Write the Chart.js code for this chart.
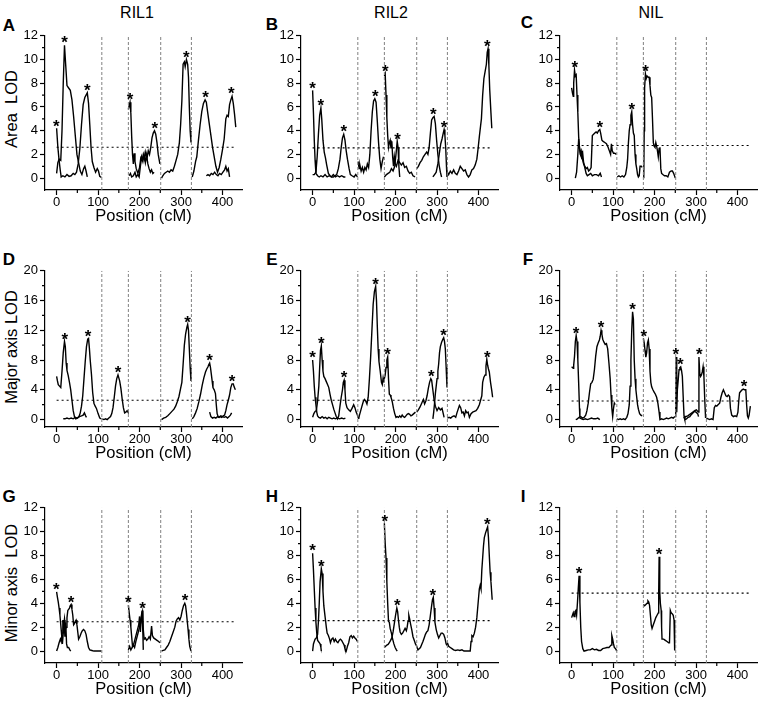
<!DOCTYPE html>
<html>
<head>
<meta charset="utf-8">
<script src="https://cdn.jsdelivr.net/npm/chart.js@4.4.1/dist/chart.umd.min.js"></script>
<style>
body { margin: 0; background: #fff; width: 759px; height: 703px; position: relative; overflow: hidden;
       font-family: "Liberation Sans", Arial, sans-serif; color: #000; }
canvas { position: absolute; }
.t { position: absolute; transform: translate(-50%, -50%); white-space: pre; }
.hdr { font-size: 16px; }
.let { font-size: 17px; font-weight: bold; }
.yt { font-size: 16.5px; transform: translate(-50%, -50%) rotate(-90deg); }
</style>
</head>
<body>
<div class="t hdr" style="left:137px;top:13px">RIL1</div>
<div class="t hdr" style="left:391px;top:13px">RIL2</div>
<div class="t hdr" style="left:651px;top:13px">NIL</div>

<div class="t let" style="left:9px;top:26px">A</div>
<div class="t let" style="left:272px;top:25px">B</div>
<div class="t let" style="left:527px;top:23px">C</div>
<div class="t let" style="left:9px;top:260px">D</div>
<div class="t let" style="left:272px;top:260px">E</div>
<div class="t let" style="left:528px;top:260px">F</div>
<div class="t let" style="left:9px;top:497px">G</div>
<div class="t let" style="left:272px;top:497px">H</div>
<div class="t let" style="left:523px;top:497px">I</div>

<div class="t yt" style="left:11px;top:109px">Area  LOD</div>
<div class="t yt" style="left:11px;top:347px">Major axis LOD</div>
<div class="t yt" style="left:11px;top:583px">Minor axis  LOD</div>

<script>
// chromosome boundaries (cM) and axis ticks
const chromBounds = [109, 173, 251, 325];
const xTicks = [0, 100, 200, 300, 400];
const xMinor = [50, 150, 250, 350];
const yTicks12 = [0, 2, 4, 6, 8, 10, 12];
const yMinor12 = [1, 3, 5, 7, 9, 11];
const yTicks20 = [0, 4, 8, 12, 16, 20];
const yMinor20 = [2, 6, 10, 14, 18];

// significance thresholds, panels A..I
const thresholdLOD = [2.6, 2.55, 2.75, 2.6, 2.6, 2.5, 2.45, 2.55, 4.85];

// ---- A: RIL1 area
const A1a = [[0,4.2],[3,2.6],[6,1.5],[9,0.6],[11,0.1],[15,0.2],[20,0.1],[25,0.3],[30,0.15],[35,0.2],[40,0.4],[44,0.3],[48,0.5],[52,1.2],[56,2.5],[60,4.5],[64,6.2],[68,6.8],[71,7.0],[74,7.2],[77,6.3],[80,4.5],[83,2.6],[86,1.4],[90,0.9],[94,0.5],[98,0.8],[101,0.6],[104,0.15],[108,0.05]];
const A1b = [[0,0.4],[3,1.3],[6,1.6],[10,1.5],[13,4.0],[16,8.0],[19,11.2],[22,9.5],[25,7.8],[29,7.6],[33,7.4],[37,6.6],[41,5.2],[45,3.6],[49,2.0],[53,1.3],[57,0.6],[61,0.3],[65,0.8],[68,1.0],[71,0.6],[74,0.1]];
const A2a = [[173,5.8],[175,6.1],[177,6.4],[179,5.5],[181,3.5],[183,2.0],[185,1.2],[187,2.1],[189,1.4],[192,0.8],[196,0.4],[200,0.9],[203,1.7],[206,1.5],[209,2.0],[212,1.6],[215,2.2],[218,1.7],[221,2.3],[224,2.0],[227,2.6],[230,3.4],[233,3.8],[236,4.0],[239,3.7],[242,3.0],[245,2.0],[249,1.2]];
const A2b = [[175,0.2],[178,0.4],[181,0.1],[185,0.2],[189,0.5],[192,0.1],[196,0.3],[199,0.1],[202,1.0],[205,1.8],[208,1.4],[211,2.0],[214,1.3],[217,1.9],[220,1.2],[223,0.8],[226,0.5],[229,0.7],[232,0.4],[235,0.5]];
const A3 = [[253,0],[256,0.2],[260,0.4],[264,0.5],[268,0.6],[272,0.5],[276,0.7],[280,0.6],[284,1.0],[288,1.5],[292,2.0],[296,3.0],[299,4.5],[302,6.5],[305,9.6],[308,9.8],[310,9.4],[313,10.0],[316,9.6],[318,8.5],[320,6.0],[322,4.0],[324,3.0]];
const A4a = [[327,0.1],[331,0.6],[335,1.4],[338,1.8],[342,3.2],[346,4.5],[350,5.6],[354,6.3],[358,6.6],[361,6.4],[364,5.6],[368,4.6],[372,3.6],[376,2.6],[380,1.8],[384,1.0],[388,0.5],[392,0.9],[396,1.6],[400,2.4],[404,3.3],[408,5.0],[411,5.3],[414,5.2],[417,6.2],[420,6.6],[423,6.9],[426,6.3],[429,5.4],[432,4.3]];
const A4b = [[361,0.2],[365,0.3],[369,0.2],[373,0.4],[377,0.3],[381,0.5],[385,0.3],[389,0.2],[393,0.4],[397,0.3],[401,0.5],[405,0.7],[408,1.0],[411,0.6],[414,0.8],[417,0.1]];
const A_stars = [[-1,4.2],[19,11.2],[74,7.2],[177,6.4],[237,4.0],[313,10.0],[359,6.6],[421,6.9]];

// ---- B: RIL2 area
const B1a = [[0,7.4],[2,5.5],[4,3.2],[6,1.5],[8,0.4],[12,0.2],[16,0.1],[20,0.2],[25,0.1],[30,0.3],[35,0.1],[40,0.2],[45,0.1],[50,0.3],[55,0.1],[60,0.2],[65,0.1],[70,0.2],[75,0.1],[79,0.1]];
const B1b = [[0,0.3],[4,0.3],[8,0.5],[11,1.8],[14,3.7],[17,5.3],[20,5.9],[22,5.0],[25,3.2],[28,2.2],[31,1.7],[34,1.1],[38,0.4],[42,0.2],[46,0.1],[50,0.1],[54,0.2],[58,0.3],[62,0.8],[66,1.6],[69,2.6],[72,3.4],[75,3.7],[78,3.2],[81,2.3],[84,1.6],[88,0.8],[91,0.3],[95,0.2],[100,0.1],[104,0.3],[108,0.1]];
const B2 = [[110,1.4],[112,0.8],[114,1.1],[117,0.6],[120,0.9],[123,0.5],[126,0.9],[129,0.7],[132,1.2],[135,0.9],[138,2.0],[141,4.0],[144,5.6],[147,6.5],[150,6.7],[153,6.4],[156,4.8],[159,3.0],[162,1.6],[165,0.8],[168,1.4],[171,1.8]];
const B3a = [[173,8.6],[175,8.8],[177,7.0],[179,5.1],[181,3.6],[183,2.6],[185,3.0],[187,3.2],[189,2.5],[191,3.1],[193,1.8],[195,1.0],[197,1.8],[199,1.2],[202,1.0],[206,1.5],[210,1.3],[214,1.1],[218,1.3],[222,0.9],[226,1.0],[230,0.6],[234,0.4],[238,0.5],[242,0.2],[247,0.1]];
const B3b = [[173,0.1],[178,0.3],[182,0.4],[186,0.5],[190,0.8],[194,0.6],[198,1.0],[201,2.0],[204,3.1],[206,2.6],[208,1.0],[210,0.1]];
const B4a = [[251,0.8],[255,1.0],[259,1.3],[263,1.5],[267,1.8],[271,2.0],[275,2.2],[278,2.0],[281,2.6],[284,3.8],[287,4.9],[290,5.1],[293,5.2],[296,4.6],[299,3.2],[302,2.0],[305,1.1],[308,0.5],[311,0.1]];
const B4b = [[290,0.1],[294,0.3],[298,0.5],[302,1.2],[306,2.2],[309,2.9],[312,3.3],[315,3.8],[317,4.1],[319,3.6],[321,2.5],[323,0.8],[324,0.1]];
const B5 = [[325,0.5],[328,0.3],[332,0.6],[336,0.4],[340,0.7],[344,0.4],[348,0.3],[352,0.6],[356,1.0],[360,0.8],[364,0.6],[368,0.7],[372,0.3],[376,0.1],[380,0.3],[384,0.7],[388,0.8],[392,1.1],[396,1.6],[399,2.5],[402,3.5],[405,4.4],[407,5.0],[410,7.0],[413,8.4],[416,9.0],[419,9.6],[421,10.6],[423,10.9],[425,9.5],[427,7.5],[430,5.5],[432,4.2]];
const B_stars = [[0,7.4],[20,5.9],[75,3.7],[151,6.7],[175,8.8],[205,3.1],[291,5.2],[317,4.1],[421,10.9]];

// ---- C: NIL area
const C1a = [[0,7.6],[2,7.2],[4,6.9],[5,8.0],[7,9.1],[9,8.6],[11,8.7],[13,7.0],[15,5.5],[17,3.5],[19,2.5],[21,2.1],[23,2.3],[25,1.6],[27,2.0],[29,1.3],[31,1.0],[33,0.7],[35,0.4],[38,0.2],[42,0.3],[46,0.4],[50,0.2],[55,0.3],[60,0.3],[65,0.2],[69,0.4],[72,0.1]];
const C1b = [[9,0],[12,0.5],[15,2.0],[17,3.3],[19,2.6],[21,2.0],[23,1.8],[26,1.6],[29,1.2],[32,1.0],[35,0.8],[38,0.9],[41,0.6],[44,0.7],[47,0.9],[50,3.6],[53,3.7],[56,3.8],[59,3.9],[62,3.8],[65,4.0],[68,4.1],[70,3.8],[73,3.2],[76,3.1],[80,3.0],[84,2.9],[88,2.6],[91,2.3],[94,2.0],[96,2.9],[98,2.3],[101,2.1],[104,2.1],[108,2.0]];
const C2 = [[110,0.1],[114,0.2],[118,0.1],[122,0.2],[126,0.1],[130,0.3],[133,0.9],[135,1.6],[137,3.0],[139,4.0],[141,4.5],[143,5.3],[145,5.6],[147,4.5],[149,3.8],[151,3.6],[153,2.0],[155,1.2],[157,0.8],[159,0.3],[161,0.1],[163,0.2],[165,1.0],[168,1.0],[170,0.9]];
const C3 = [[174,0],[175,4.0],[176,7.6],[178,8.8],[180,8.4],[182,8.6],[185,8.5],[187,8.5],[189,7.8],[191,7.0],[193,6.8],[195,5.0],[197,3.0],[199,2.7],[201,2.6],[203,3.0],[205,2.7],[207,2.3],[209,1.8],[211,2.5],[213,2.6],[215,0.8],[217,0.4],[220,0.3],[224,0.2],[228,0.2],[232,0.1],[236,0.5],[240,0.6],[243,0.6],[246,0.4],[250,0.0]];
const C_stars = [[8,9.1],[68,4.1],[145,5.6],[178,8.8]];

// ---- D: RIL1 major axis
const D1a = [[0,5.8],[2,5.2],[4,4.7],[7,4.5],[10,4.3],[13,6.5],[16,9.0],[19,10.5],[21,9.8],[23,7.6],[25,6.6],[28,5.9],[31,5.0],[34,4.0],[37,2.6],[40,1.2],[43,0.4],[46,0.1],[50,0.2],[54,0.4],[57,0.9],[60,1.8],[63,3.2],[66,5.5],[69,7.8],[72,9.8],[75,10.8],[77,10.9],[79,9.6],[81,8.0],[84,6.1],[87,3.6],[90,2.2],[93,1.8],[96,1.5],[100,0.8],[104,0.2],[108,0.1]];
const D1b = [[16,0.1],[20,0.1],[25,0.2],[30,0.1],[35,0.2],[40,0.1],[45,0.3],[50,0.2],[55,0.4],[60,0.5],[64,0.6],[67,0.9],[70,0.5],[72,0.3]];
const D2 = [[110,0.1],[114,0.0],[118,0.1],[122,0.0],[126,0.2],[130,0.4],[133,0.8],[136,1.6],[139,3.0],[142,4.5],[145,5.5],[148,6.0],[150,5.6],[152,5.2],[155,4.2],[158,2.8],[161,1.6],[164,0.9],[167,1.0],[170,1.2],[172,1.0]];
const D4 = [[253,0],[258,0.2],[263,0.3],[268,0.5],[273,0.8],[278,1.1],[283,1.4],[287,1.8],[291,2.4],[295,3.1],[299,4.2],[302,5.0],[305,7.4],[308,10.0],[311,11.5],[314,12.4],[316,12.8],[318,12.0],[320,9.5],[322,7.0],[324,5.2]];
const D5a = [[327,0.1],[331,0.4],[335,0.9],[339,1.5],[343,2.4],[347,3.4],[351,4.6],[355,5.6],[359,6.4],[362,6.8],[365,7.1],[367,7.4],[369,7.6],[371,7.0],[373,6.1],[375,5.2],[377,4.3],[380,4.0],[383,3.5],[385,2.0],[387,0.8],[390,0.3],[394,0.4],[398,0.3],[402,0.5],[405,0.6],[408,1.2],[411,2.0],[414,2.6],[417,3.3],[420,4.3],[423,4.8],[426,4.8],[428,4.4],[431,4.0]];
const D5b = [[369,1.0],[372,0.4],[376,0.2],[380,0.3],[384,0.2],[388,0.4],[392,0.3],[396,0.5],[400,0.4],[404,0.3],[408,0.4],[412,0.2],[416,0.4],[419,0.6],[422,0.9]];
const D_stars = [[20,10.5],[76,10.9],[148,6.0],[316,12.8],[369,7.6],[423,4.8]];

// ---- E: RIL2 major axis
const E1a = [[0,8.0],[2,6.5],[4,4.5],[6,3.0],[8,2.0],[10,1.0],[12,0.5],[15,0.3],[19,0.2],[23,0.4],[27,0.2],[31,0.3],[35,0.1],[39,0.3],[43,0.2],[47,0.1],[51,0.2],[55,0.1],[60,0.2],[65,0.1],[70,0.2],[75,0.1],[79,0.2]];
const E1b = [[0,0.3],[3,0.8],[6,1.1],[9,1.2],[12,2.5],[15,4.5],[17,7.0],[19,9.3],[21,9.9],[23,8.0],[25,6.5],[27,5.8],[30,5.5],[33,5.1],[36,4.7],[39,4.3],[42,3.4],[45,2.6],[48,2.0],[51,1.4],[54,0.9],[57,0.4],[60,0.1],[63,0.5],[66,1.8],[69,3.0],[72,4.0],[74,5.0],[76,5.3],[78,4.0],[80,2.2],[83,1.6],[87,1.3],[91,1.1],[95,1.5],[99,2.0],[102,1.6],[105,1.0],[108,0.6],[111,0.1]];
const E2 = [[111,0.1],[113,0.6],[116,1.2],[119,1.8],[122,2.4],[125,2.7],[128,2.5],[131,2.1],[134,3.0],[137,5.5],[140,8.5],[143,12.0],[146,15.5],[149,17.2],[152,17.9],[154,16.0],[156,12.5],[158,9.5],[160,7.8],[163,6.5],[166,5.0],[168,4.7],[170,5.6],[172,5.0],[173,5.5]];
const E3 = [[173,5.5],[175,6.0],[177,7.0],[179,8.0],[181,8.4],[183,5.5],[185,3.4],[187,3.3],[189,3.0],[192,2.4],[195,1.5],[198,0.8],[201,0.3],[204,0.4],[207,0.3],[210,0.5],[213,0.3],[216,0.6],[219,0.4],[222,0.3],[225,0.5],[228,0.7],[231,0.8],[234,0.7],[237,0.5],[240,0.6],[244,0.8],[248,1.0]];
const E4a = [[251,1.0],[255,1.3],[259,1.7],[263,2.2],[267,2.7],[270,2.1],[273,2.5],[276,3.2],[279,4.2],[282,5.0],[285,5.5],[287,5.3],[289,4.4],[291,3.5],[293,2.6],[296,1.8],[300,1.2],[304,1.6],[308,1.3],[312,1.5],[315,0.8],[317,0.3]];
const E4b = [[290,0.1],[292,1.0],[294,2.2],[296,3.5],[298,4.5],[300,5.5],[302,6.5],[304,7.5],[306,9.0],[308,9.8],[311,10.4],[314,10.8],[316,11.0],[318,10.5],[320,9.5],[322,7.0],[324,4.3]];
const E5 = [[325,0.2],[329,0.3],[333,0.2],[337,0.4],[341,0.5],[345,0.3],[348,0.9],[351,1.4],[354,1.9],[357,1.6],[360,0.9],[363,1.0],[366,0.5],[369,1.2],[372,0.9],[375,1.0],[378,0.3],[382,0.8],[386,1.0],[390,1.1],[394,1.2],[398,1.5],[402,2.0],[405,2.6],[408,3.2],[410,5.0],[413,5.7],[416,6.0],[418,7.2],[420,8.1],[422,7.3],[424,6.8],[426,6.4],[429,5.0],[432,3.9],[434,3.0]];
const E_stars = [[0,8.0],[21,9.9],[76,5.3],[152,17.9],[181,8.4],[286,5.5],[316,11.0],[421,8.1]];

// ---- F: NIL major axis
const F1a = [[0,7.1],[2,7.0],[4,6.9],[5,7.3],[7,8.5],[9,10.5],[11,11.3],[13,10.5],[15,8.0],[17,4.9],[19,1.5],[20,0.2],[24,0.1],[28,0.0],[33,0.1],[38,0.0],[43,0.1],[48,0.2],[53,0.1],[58,0.1],[63,0.2],[68,0.0]];
const F1b = [[10,0],[14,0.1],[18,0.3],[22,0.4],[26,0.2],[30,0.3],[34,0.6],[37,1.2],[40,2.2],[43,3.6],[46,4.8],[49,5.0],[52,5.4],[55,6.7],[58,8.5],[61,9.8],[64,10.3],[67,10.7],[69,11.2],[71,12.0],[73,11.5],[75,10.8],[78,10.4],[81,10.1],[84,10.2],[87,9.5],[90,7.6],[93,5.5],[95,3.3],[97,1.5],[99,0.4],[101,1.5],[103,2.2],[105,2.0],[107,2.0]];
const F2 = [[109,0.1],[113,0.0],[117,0.1],[121,0.0],[125,0.1],[129,0.0],[133,0.3],[136,0.8],[139,2.0],[141,4.5],[143,8.0],[145,12.0],[147,14.5],[149,13.5],[151,8.0],[153,5.5],[155,4.0],[157,3.0],[159,2.0],[161,1.4],[164,0.8],[167,0.6],[170,0.5]];
const F3 = [[173,10.9],[175,10.3],[177,9.3],[179,8.4],[181,9.0],[183,10.3],[185,10.7],[187,9.5],[189,6.5],[191,5.0],[193,4.4],[196,4.0],[199,3.7],[202,3.4],[205,3.0],[208,2.2],[211,1.0],[213,0.0],[217,0.1],[221,0.0],[225,0.1],[229,0.2],[233,0.1],[237,0.2],[241,0.3],[245,0.2],[249,0.4]];
const F4a = [[251,0.3],[252,8.4],[253,3.0],[254,1.0],[255,4.0],[257,5.3],[259,6.7],[261,7.0],[263,7.1],[265,6.6],[267,5.8],[269,3.1],[271,0.5],[273,0.0],[277,0.1],[281,0.3],[285,0.4],[289,0.7],[293,0.9],[297,1.2],[301,1.3],[304,1.1],[306,1.0],[307,8.4],[309,6.2],[311,5.8],[313,6.0],[315,6.4],[317,7.1],[319,5.8],[321,2.7],[323,0.2]];
const F4b = [[270,0.2],[275,0.4],[280,0.5],[285,0.7],[290,0.9],[295,1.1],[300,1.0],[304,0.8],[306,0.4]];
const F5 = [[325,0.2],[329,0.1],[333,0.0],[337,0.1],[341,0.0],[344,1.6],[347,1.9],[350,1.8],[353,2.0],[357,2.2],[360,3.0],[363,3.6],[366,4.0],[369,3.6],[372,3.2],[375,3.1],[378,3.3],[381,3.1],[383,1.5],[386,0.6],[390,0.4],[394,0.5],[398,0.4],[401,1.0],[403,2.5],[405,3.6],[408,3.8],[411,4.0],[414,4.1],[417,4.0],[420,4.0],[422,2.0],[424,0.5],[426,0.2],[428,0.6],[431,1.8]];
const F_stars = [[11,11.3],[71,12.0],[147,14.5],[174,10.9],[251,8.4],[262,7.1],[308,8.4],[416,4.1]];

// ---- G: RIL1 minor axis
const G1a = [[0,4.95],[2,4.5],[4,4.1],[6,3.6],[8,3.0],[10,2.2],[12,1.4],[14,0.6],[16,1.5],[18,2.6],[20,1.2],[22,2.4],[24,0.6],[26,0.3],[29,0.3],[32,0.1],[34,0.0]];
const G1b = [[0,0.0],[3,0.3],[6,0.7],[9,1.0],[11,0.8],[13,1.5],[15,2.6],[17,2.2],[19,2.7],[21,1.8],[23,2.0],[25,2.8],[27,3.4],[29,3.5],[31,3.6],[33,3.8],[35,3.9],[37,3.5],[39,3.0],[41,2.2],[43,2.3],[45,2.5],[47,2.6],[49,2.2],[51,1.6],[53,1.0],[56,1.2],[59,1.5],[62,1.7],[65,1.8],[68,1.7],[71,1.4],[74,0.8],[77,0.3],[80,0.1],[85,0.05],[90,0.0],[95,0.0],[100,0.0],[105,0.0],[108,0.0]];
const G3a = [[173,3.85],[175,3.2],[177,2.6],[179,2.0],[181,1.2],[183,0.4],[186,0.6],[189,1.0],[192,1.4],[195,1.8],[198,2.2],[200,2.9],[202,1.6],[204,2.8],[206,3.4],[208,1.5],[209,0.1]];
const G3b = [[173,0.1],[176,0.4],[179,0.1],[182,0.3],[185,0.5],[188,0.3],[191,0.8],[194,1.2],[197,1.6],[200,2.0],[203,2.4],[205,3.0],[207,3.3],[209,1.8],[211,1.0],[214,1.1],[217,0.9],[220,1.0],[223,1.2],[226,1.0],[229,2.1],[231,1.3],[234,1.1],[238,1.0],[242,0.9],[246,0.8],[249,0.7]];
const G4 = [[253,0.0],[257,0.05],[261,0.1],[265,0.3],[269,0.5],[273,0.8],[277,1.2],[281,1.6],[285,2.0],[288,2.5],[291,2.7],[294,2.8],[297,2.6],[300,2.9],[303,3.4],[306,3.8],[309,4.0],[311,3.8],[313,3.2],[315,2.5],[317,1.8],[319,1.0],[321,0.4],[324,0.0]];
const G_stars = [[-1,4.95],[35,3.9],[173,3.85],[207,3.4],[310,4.0]];

// ---- H: RIL2 minor axis
const H1a = [[0,8.2],[2,6.8],[4,5.2],[6,3.6],[8,2.4],[10,1.5],[12,0.9],[14,0.8],[16,0.7],[18,0.6],[20,0.3],[21,0.0]];
const H1b = [[0,0.0],[2,0.6],[4,0.8],[6,1.0],[9,1.1],[12,1.4],[14,2.5],[16,4.0],[18,5.8],[21,6.9],[23,6.5],[25,5.0],[27,3.8],[29,3.2],[31,2.6],[33,2.0],[35,1.5],[38,1.3],[41,1.0],[43,0.7],[46,1.0],[49,1.1],[52,0.8],[55,1.0],[58,0.8],[61,0.7],[64,0.9],[67,1.0],[70,0.9],[73,0.7],[76,0.5],[78,0.2],[81,0.0],[84,0.4],[87,0.7],[90,1.2],[93,1.3],[96,1.1],[99,1.25],[102,1.1],[105,1.0],[108,0.8]];
const H3a = [[173,10.7],[175,9.0],[177,7.8],[179,5.8],[181,4.0],[183,2.5],[185,2.4],[187,1.9],[190,1.5],[193,1.0],[196,0.6],[199,0.3],[202,0.1],[204,0.0]];
const H3b = [[173,0.3],[176,0.4],[179,0.5],[182,0.55],[185,0.7],[188,0.9],[191,1.1],[194,1.6],[197,2.3],[200,3.0],[203,3.6],[205,3.3],[207,2.6],[209,2.0],[211,1.6],[214,1.4],[217,1.5],[220,1.7],[223,1.9],[226,1.7],[228,2.0],[230,2.5],[232,3.0],[234,2.7],[236,2.3],[239,1.8],[242,1.2],[245,0.9],[248,0.6],[251,0.4]];
const H4 = [[251,0.4],[254,0.1],[257,0.2],[260,0.3],[263,0.55],[266,0.8],[269,1.1],[272,1.4],[275,1.6],[278,1.7],[281,2.2],[284,3.0],[287,3.8],[289,4.3],[291,4.5],[293,3.6],[295,2.4],[298,1.8],[301,1.4],[304,1.1],[307,1.3],[310,1.5],[313,1.5],[316,1.4],[319,1.1],[322,0.6],[324,0.5]];
const H5 = [[325,0.7],[328,0.4],[332,0.3],[336,0.2],[340,0.1],[345,0.05],[350,0.1],[355,0.05],[360,0.1],[365,0.0],[370,0.0],[375,0.0],[380,0.0],[382,0.8],[384,1.3],[387,1.2],[390,1.5],[393,2.0],[396,2.8],[399,4.0],[402,5.2],[404,5.5],[406,5.2],[408,6.8],[410,7.8],[412,8.8],[414,9.5],[417,9.9],[420,10.2],[422,10.4],[424,9.5],[426,8.0],[428,6.6],[430,5.8],[433,4.3]];
const H_stars = [[0,8.2],[21,6.9],[174,10.7],[204,3.6],[290,4.5],[421,10.4]];

// ---- I: NIL minor axis
const I1 = [[0,2.8],[2,3.0],[4,3.2],[6,2.9],[8,3.3],[10,3.4],[12,3.0],[14,4.0],[16,5.2],[18,6.3],[20,4.1],[22,2.0],[24,0.8],[27,0.2],[30,0.0],[35,0.05],[40,0.1],[45,0.1],[50,0.2],[55,0.1],[60,0.15],[65,0.05],[70,0.05],[75,0.2],[80,0.25],[85,0.3],[90,0.3],[95,0.5],[97,1.3],[99,1.0],[101,0.6],[103,0.3],[106,0.2],[109,0.0]];
const I3 = [[173,3.9],[176,3.8],[179,3.9],[182,4.0],[184,4.2],[186,4.1],[188,3.8],[190,3.0],[192,2.2],[194,1.9],[197,2.2],[200,2.5],[203,2.8],[206,3.0],[209,3.2],[210,5.0],[211,7.9],[212,6.5],[213,5.0],[214,4.0],[216,3.4],[217,2.0],[218,1.0],[222,1.0],[226,0.9],[230,0.8],[234,0.7],[236,0.7],[238,3.4],[240,3.2],[243,3.1],[245,3.0],[247,2.6],[248,2.3],[249,0.05]];
const I_stars = [[18,6.3],[211,7.9]];

const panelCurves = [
    [A1a, A1b, A2a, A2b, A3, A4a, A4b],
    [B1a, B1b, B2, B3a, B3b, B4a, B4b, B5],
    [C1a, C1b, C2, C3],
    [D1a, D1b, D2, D4, D5a, D5b],
    [E1a, E1b, E2, E3, E4a, E4b, E5],
    [F1a, F1b, F2, F3, F4a, F4b, F5],
    [G1a, G1b, G3a, G3b, G4],
    [H1a, H1b, H3a, H3b, H4, H5],
    [I1, I3]
];
const panelStars = [A_stars, B_stars, C_stars, D_stars, E_stars, F_stars, G_stars, H_stars, I_stars];

// page layout
const colLeft = [0, 256, 515];
const rowTop = [26, 261, 498];
const rowHeight = [200, 202, 201];
const FONT = '"Liberation Sans", Arial, sans-serif';

function marksPlugin(yMinor) {
    return {
        id: 'marks',
        afterDraw(chart) {
            const ctx = chart.ctx;
            const area = chart.chartArea;
            const xs = chart.scales.x, ys = chart.scales.y;
            ctx.save();
            ctx.strokeStyle = '#000';
            ctx.lineWidth = 1.2;
            ctx.beginPath();
            xMinor.forEach(v => {
                const px = xs.getPixelForValue(v);
                ctx.moveTo(px, area.bottom);
                ctx.lineTo(px, area.bottom + 3);
            });
            yMinor.forEach(v => {
                const py = ys.getPixelForValue(v);
                ctx.moveTo(area.left, py);
                ctx.lineTo(area.left - 3, py);
            });
            ctx.stroke();
            // asterisks over significant peaks
            ctx.font = 'bold 17px ' + FONT;
            ctx.textAlign = 'center';
            ctx.textBaseline = 'middle';
            ctx.fillStyle = '#000';
            chart.data.datasets.forEach((ds, i) => {
                if (!ds.isStars) return;
                chart.getDatasetMeta(i).data.forEach(pt => ctx.fillText('*', pt.x, pt.y - 1.5));
            });
            ctx.restore();
        }
    };
}

function makePanel(idx) {
    const row = Math.floor(idx / 3), col = idx % 3;
    const big = row === 1;
    const yMax = big ? 20 : 12;
    const yTicks = big ? yTicks20 : yTicks12;
    const yMinor = big ? yMinor20 : yMinor12;

    const canvas = document.createElement('canvas');
    canvas.width = 244;
    canvas.height = rowHeight[row];
    canvas.style.left = colLeft[col] + 'px';
    canvas.style.top = rowTop[row] + 'px';
    document.body.appendChild(canvas);

    const datasets = [];
    chromBounds.forEach(b => datasets.push({
        data: [[b, -1], [b, yMax]],
        showLine: true, borderColor: '#808080', borderWidth: 1, borderDash: [3, 2],
        pointRadius: 0
    }));
    datasets.push({
        data: [[0, thresholdLOD[idx]], [434, thresholdLOD[idx]]],
        showLine: true, borderColor: '#000', borderWidth: 1.1, borderDash: [2, 3],
        pointRadius: 0
    });
    panelCurves[idx].forEach(c => datasets.push({
        data: c, showLine: true, borderColor: '#000', borderWidth: 1.4,
        pointRadius: 0, tension: 0
    }));
    datasets.push({ data: panelStars[idx], isStars: true, showLine: false, pointRadius: 0 });

    new Chart(canvas, {
        type: 'scatter',
        data: { datasets },
        options: {
            responsive: false,
            animation: false,
            devicePixelRatio: 1,
            layout: { padding: { top: 8, right: 2, bottom: 0, left: 0 } },
            plugins: { legend: { display: false }, tooltip: { enabled: false } },
            scales: {
                x: {
                    type: 'linear', min: -28, max: 447,
                    afterBuildTicks: s => { s.ticks = xTicks.map(v => ({ value: v })); },
                    afterFit: s => { s.height = 36; },
                    ticks: { color: '#000', font: { family: FONT, size: 13 }, padding: 0, maxRotation: 0 },
                    grid: { drawOnChartArea: false, drawTicks: true, tickLength: 5, color: '#000', tickWidth: 1.2 },
                    border: { display: true, color: '#000', width: 1.2 },
                    title: { display: true, text: 'Position (cM)', color: '#000',
                             font: { family: FONT, size: 16.5 }, padding: { top: 0, bottom: 0 } }
                },
                y: {
                    type: 'linear', min: -1, max: yMax,
                    afterBuildTicks: s => { s.ticks = yTicks.map(v => ({ value: v })); },
                    afterFit: s => { s.width = 45; },
                    ticks: { color: '#000', font: { family: FONT, size: 13 }, padding: 2 },
                    grid: { drawOnChartArea: false, drawTicks: true, tickLength: 5, color: '#000', tickWidth: 1.2 },
                    border: { display: true, color: '#000', width: 1.2 }
                }
            }
        },
        plugins: [marksPlugin(yMinor)]
    });
}

for (let i = 0; i < 9; i++) makePanel(i);
</script>
</body>
</html>
